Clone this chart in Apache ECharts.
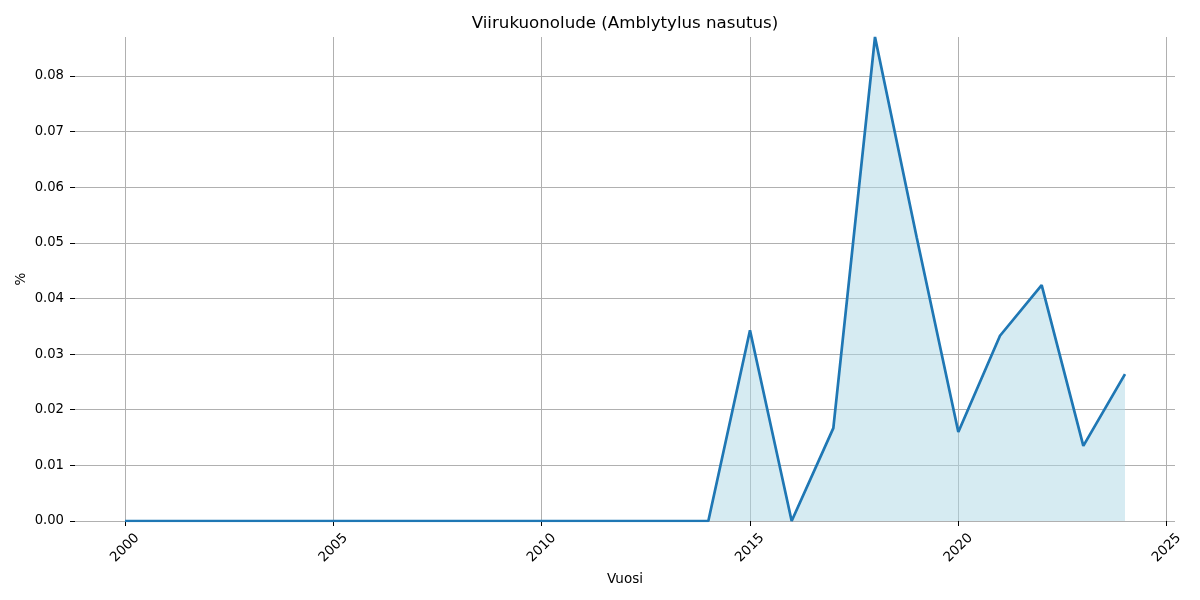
<!DOCTYPE html>
<html><head><meta charset="utf-8">
<script src="https://cdn.jsdelivr.net/npm/echarts@6/dist/echarts.min.js"></script>
<style>html,body{margin:0;padding:0;background:#fff}#c{width:1200px;height:600px}</style>
</head><body><div id="c"></div>
<script>
const years = [2000,2001,2002,2003,2004,2005,2006,2007,2008,2009,2010,2011,2012,2013,2014,2015,2016,2017,2018,2019,2020,2021,2022,2023,2024];
const values = [0,0,0,0,0,0,0,0,0,0,0,0,0,0,0,0.0343,0,0.0167,0.087,0.051,0.016,0.0333,0.0424,0.0135,0.0264];
const xTicks = [2000,2005,2010,2015,2020,2025];
const yTicks = [0,0.01,0.02,0.03,0.04,0.05,0.06,0.07,0.08];
const font = 'DejaVu Sans';
const chart = echarts.init(document.getElementById('c'));
chart.setOption({
  animation:false,
  title:{text:'Viirukuonolude (Amblytylus nasutus)',left:620,textAlign:'center',top:10,textStyle:{fontFamily:font,fontSize:16.67,fontWeight:'normal',color:'#000'}},
  grid:{left:75,right:25,top:37,bottom:79},
  xAxis:{type:'value',min:1998.8,max:2025.2,
    name:'Vuosi',nameLocation:'middle',nameGap:49,nameTextStyle:{fontFamily:font,fontSize:13.5,color:'#000'},
    axisLine:{show:false},
    axisTick:{show:true,length:5,lineStyle:{color:'#000',width:1},customValues:xTicks},
    axisLabel:{rotate:45,align:'center',verticalAlign:'middle',fontFamily:font,fontSize:13.5,color:'#000',margin:27,customValues:xTicks,formatter:v=>String(v)},
    splitLine:{show:true,lineStyle:{color:'#b0b0b0',width:1}}
  },
  yAxis:{type:'value',min:0,max:0.087,
    name:'%',nameLocation:'middle',nameGap:47,nameMoveOverlap:false,nameTextStyle:{fontFamily:font,fontSize:13.5,color:'#000'},
    axisLine:{show:false},
    axisTick:{show:true,length:5,lineStyle:{color:'#000',width:1},customValues:yTicks},
    axisLabel:{fontFamily:font,fontSize:13.2,color:'#000',margin:11,customValues:yTicks,formatter:v=>v.toFixed(2)},
    splitLine:{show:true,lineStyle:{color:'#b0b0b0',width:1}}
  },
  series:[{type:'line',data:years.map((y,i)=>[y,values[i]]),showSymbol:false,symbol:'none',
    lineStyle:{color:'#1f77b4',width:2.7},
    areaStyle:{color:'rgba(173,216,230,0.5)',opacity:1,origin:'start'},
    z:3}]
});
</script></body></html>
